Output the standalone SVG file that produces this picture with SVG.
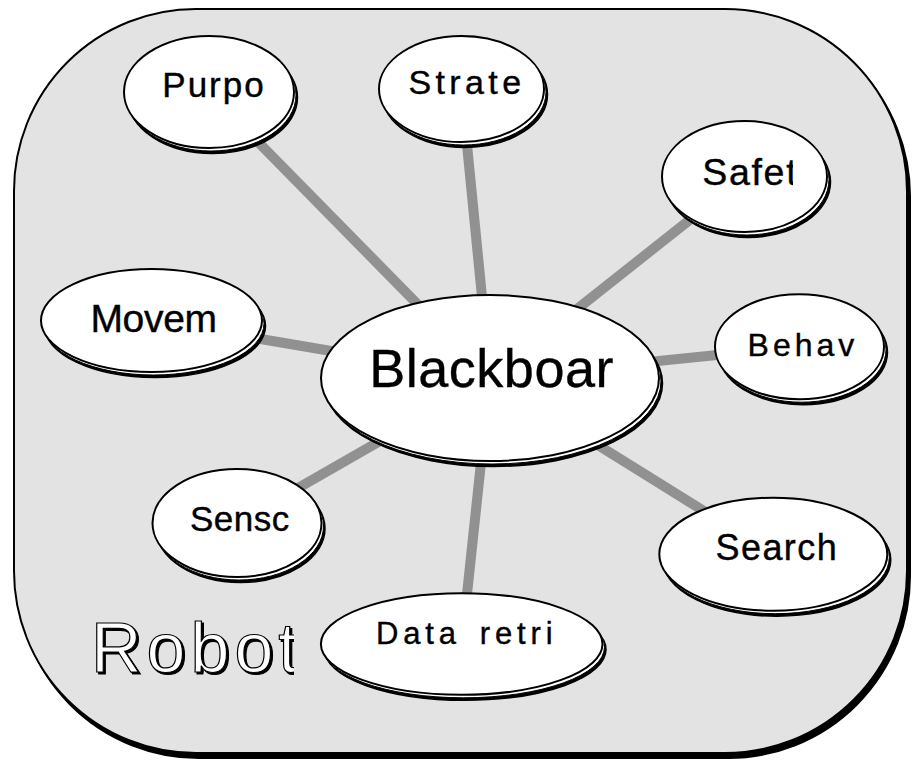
<svg xmlns="http://www.w3.org/2000/svg" width="913" height="763" viewBox="0 0 913 763">
  <style>
    .panel { fill: #e3e3e3; stroke: #000; stroke-width: 2; }
    .panel-sh { fill: #000; stroke: #000; stroke-width: 2; }
    .link { stroke: #919191; stroke-width: 10; stroke-linecap: butt; }
    .sh1 { fill: #000; stroke: #000; stroke-width: 1.5; }
    .sh2 { fill: #fff; stroke: #000; stroke-width: 1; }
    .node { fill: #fff; stroke: #000; stroke-width: 2; }
    .lbl { font-family: "Liberation Sans", Arial, Helvetica, sans-serif; fill: #000; stroke: #000; stroke-width: 0.4; }
    .title { font-family: "Liberation Sans", Arial, Helvetica, sans-serif; font-size: 70px; letter-spacing: 5px; fill: #fff; stroke: #000; stroke-width: 1.2; }
  </style>
  <defs>
    <clipPath id="clip-safet"><rect x="600" y="100" width="193" height="120"/></clipPath>
    <clipPath id="clip-data"><rect x="300" y="580" width="253" height="120"/></clipPath>
    <clipPath id="clip-robot"><rect x="60" y="590" width="234" height="110"/></clipPath>
    <!-- dark offset copy under the outlined title -->
    <filter id="title-shadow" x="-5%" y="-10%" width="115%" height="130%">
      <feOffset in="SourceAlpha" dx="2" dy="2" result="off"/>
      <feFlood flood-color="#000"/>
      <feComposite in2="off" operator="in" result="sh"/>
      <feMerge>
        <feMergeNode in="sh"/>
        <feMergeNode in="SourceGraphic"/>
      </feMerge>
    </filter>
  </defs>

  <rect width="913" height="763" fill="#fff"/>

  <!-- outer panel with its drop shadow -->
  <g id="robot-panel">
    <rect class="panel-sh" x="17" y="14" width="893" height="744" rx="182" ry="182"/>
    <rect class="panel" x="14" y="9" width="893" height="744" rx="182" ry="182"/>
    <g clip-path="url(#clip-robot)">
      <text class="title" x="91" y="672" filter="url(#title-shadow)">Robot</text>
    </g>
  </g>

  <!-- connectors from the hub to each satellite -->
  <g id="connectors">
    <line class="link" x1="490" y1="378" x2="209" y2="92"/>
    <line class="link" x1="490" y1="378" x2="461.5" y2="89"/>
    <line class="link" x1="490" y1="378" x2="744.5" y2="176.5"/>
    <line class="link" x1="490" y1="378" x2="151.5" y2="320.5"/>
    <line class="link" x1="490" y1="378" x2="799.5" y2="346.7"/>
    <line class="link" x1="490" y1="378" x2="237" y2="523"/>
    <line class="link" x1="490" y1="378" x2="773.3" y2="554.2"/>
    <line class="link" x1="490" y1="378" x2="461.7" y2="644"/>
  </g>

  <g id="purpo">
    <ellipse class="sh1" cx="212.5" cy="97.5" rx="85" ry="56"/>
    <ellipse class="sh2" cx="211" cy="95" rx="85" ry="56"/>
    <ellipse class="node" cx="209" cy="92" rx="85" ry="56"/>
    <text class="lbl" x="162.3" y="97" font-size="35" letter-spacing="2">Purpo</text>
  </g>

  <g id="strate">
    <ellipse class="sh1" cx="465" cy="94.5" rx="82.5" ry="53"/>
    <ellipse class="sh2" cx="463.5" cy="92" rx="82.5" ry="53"/>
    <ellipse class="node" cx="461.5" cy="89" rx="82.5" ry="53"/>
    <text class="lbl" x="408.4" y="94" font-size="34" letter-spacing="4.4">Strate</text>
  </g>

  <g id="safet">
    <ellipse class="sh1" cx="748" cy="182" rx="82.5" ry="55.5"/>
    <ellipse class="sh2" cx="746.5" cy="179.5" rx="82.5" ry="55.5"/>
    <ellipse class="node" cx="744.5" cy="176.5" rx="82.5" ry="55.5"/>
    <text class="lbl" x="702.2" y="185" font-size="37.5" letter-spacing="1.7" clip-path="url(#clip-safet)">Safet</text>
  </g>

  <g id="movem">
    <ellipse class="sh1" cx="155" cy="326" rx="110.5" ry="51.5"/>
    <ellipse class="sh2" cx="153.5" cy="323.5" rx="110.5" ry="51.5"/>
    <ellipse class="node" cx="151.5" cy="320.5" rx="110.5" ry="51.5"/>
    <text class="lbl" x="90.4" y="332" font-size="39" letter-spacing="-0.3">Movem</text>
  </g>

  <g id="behav">
    <ellipse class="sh1" cx="803" cy="352.2" rx="84.5" ry="52.5"/>
    <ellipse class="sh2" cx="801.5" cy="349.7" rx="84.5" ry="52.5"/>
    <ellipse class="node" cx="799.5" cy="346.7" rx="84.5" ry="52.5"/>
    <text class="lbl" x="747.6" y="356" font-size="32" letter-spacing="4">Behav</text>
  </g>

  <g id="sensc">
    <ellipse class="sh1" cx="240.5" cy="528.5" rx="84.5" ry="54"/>
    <ellipse class="sh2" cx="239" cy="526" rx="84.5" ry="54"/>
    <ellipse class="node" cx="237" cy="523" rx="84.5" ry="54"/>
    <text class="lbl" x="190" y="531" font-size="35" letter-spacing="0.5">Sensc</text>
  </g>

  <g id="search">
    <ellipse class="sh1" cx="776.8" cy="559.7" rx="114" ry="56.5"/>
    <ellipse class="sh2" cx="775.3" cy="557.2" rx="114" ry="56.5"/>
    <ellipse class="node" cx="773.3" cy="554.2" rx="114" ry="56.5"/>
    <text class="lbl" x="715.6" y="560" font-size="36" letter-spacing="1.4">Search</text>
  </g>

  <g id="data-retri">
    <ellipse class="sh1" cx="465.2" cy="649.5" rx="140.8" ry="50.8"/>
    <ellipse class="sh2" cx="463.7" cy="647" rx="140.8" ry="50.8"/>
    <ellipse class="node" cx="461.7" cy="644" rx="140.8" ry="50.8"/>
    <text class="lbl" y="644" font-size="31" letter-spacing="4.9" clip-path="url(#clip-data)"><tspan x="375.9">Data</tspan><tspan x="479.7">retri</tspan></text>
  </g>

  <g id="blackboar">
    <ellipse class="sh1" cx="493.5" cy="383.5" rx="169" ry="83"/>
    <ellipse class="sh2" cx="492" cy="381" rx="169" ry="83"/>
    <ellipse class="node" cx="490" cy="378" rx="169" ry="83"/>
    <text class="lbl" x="369.3" y="387" font-size="54" letter-spacing="0.5">Blackboar</text>
  </g>
</svg>
